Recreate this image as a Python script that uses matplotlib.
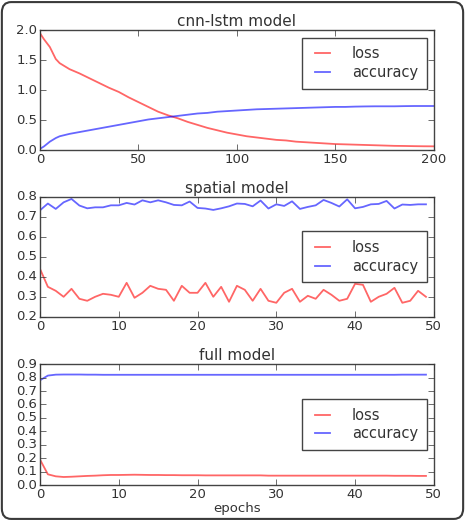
import matplotlib
matplotlib.use('Agg')
import matplotlib.pyplot as plt
from matplotlib.patches import FancyBboxPatch

plt.style.use('classic')
plt.rcParams['font.family'] = ['DejaVu Sans']

# cnn-lstm model, read every 5 epochs
cnn_epochs = [0, 2, 5, 8, 10, 15, 20, 25, 30, 35, 40, 45, 50, 55, 60, 65, 70, 75, 80, 85,
              90, 95, 100, 105, 110, 115, 120, 125, 130, 135, 140, 145, 150, 155, 160,
              165, 170, 175, 180, 185, 190, 195, 200]
cnn_loss = [1.95, 1.85, 1.72, 1.52, 1.45, 1.35, 1.28, 1.20, 1.12, 1.04, 0.97, 0.88, 0.80,
            0.72, 0.64, 0.58, 0.53, 0.47, 0.42, 0.37, 0.33, 0.29, 0.26, 0.23, 0.21, 0.19,
            0.17, 0.16, 0.14, 0.13, 0.12, 0.11, 0.10, 0.095, 0.09, 0.085, 0.08, 0.075,
            0.07, 0.068, 0.065, 0.063, 0.062]
cnn_acc = [0.02, 0.06, 0.14, 0.20, 0.23, 0.27, 0.30, 0.33, 0.36, 0.39, 0.42, 0.45, 0.48,
           0.51, 0.53, 0.55, 0.57, 0.59, 0.61, 0.62, 0.64, 0.65, 0.66, 0.67, 0.68, 0.685,
           0.69, 0.695, 0.70, 0.705, 0.71, 0.715, 0.72, 0.72, 0.725, 0.728, 0.73, 0.73,
           0.73, 0.733, 0.735, 0.735, 0.735]

# spatial model, 50 epochs
spatial_loss = [0.44, 0.35, 0.33, 0.30, 0.34, 0.29, 0.28, 0.30, 0.315, 0.31,
                0.30, 0.37, 0.295, 0.32, 0.355, 0.34, 0.335, 0.28, 0.355, 0.32,
                0.32, 0.37, 0.30, 0.35, 0.275, 0.355, 0.335, 0.28, 0.34, 0.28,
                0.27, 0.32, 0.34, 0.275, 0.305, 0.29, 0.335, 0.31, 0.28, 0.29,
                0.365, 0.36, 0.275, 0.30, 0.315, 0.345, 0.27, 0.28, 0.33, 0.30]
spatial_acc = [0.733, 0.767, 0.74, 0.773, 0.79, 0.757, 0.743, 0.748, 0.748, 0.758,
               0.758, 0.77, 0.762, 0.783, 0.773, 0.783, 0.773, 0.76, 0.758, 0.777,
               0.745, 0.742, 0.735, 0.743, 0.753, 0.767, 0.765, 0.753, 0.782, 0.742,
               0.763, 0.755, 0.778, 0.74, 0.75, 0.758, 0.785, 0.77, 0.752, 0.788,
               0.743, 0.75, 0.763, 0.765, 0.78, 0.742, 0.762, 0.76, 0.763, 0.763]

# full model, 50 epochs
full_loss = [0.19, 0.08, 0.065, 0.06, 0.062, 0.065, 0.068, 0.07, 0.073, 0.075,
             0.075, 0.076, 0.077, 0.076, 0.075, 0.075, 0.074, 0.074, 0.073, 0.073,
             0.073, 0.072, 0.072, 0.072, 0.072, 0.072, 0.072, 0.072, 0.072, 0.07,
             0.07, 0.07, 0.07, 0.07, 0.07, 0.07, 0.07, 0.07, 0.07, 0.07,
             0.07, 0.07, 0.07, 0.07, 0.07, 0.069, 0.069, 0.069, 0.068, 0.068]
full_acc = [0.78, 0.815, 0.822, 0.823, 0.823, 0.823, 0.822, 0.822, 0.821, 0.821,
            0.821, 0.821, 0.821, 0.821, 0.821, 0.821, 0.821, 0.821, 0.821, 0.821,
            0.821, 0.821, 0.821, 0.821, 0.821, 0.821, 0.821, 0.821, 0.821, 0.821,
            0.821, 0.821, 0.821, 0.821, 0.821, 0.821, 0.821, 0.821, 0.821, 0.821,
            0.821, 0.821, 0.821, 0.821, 0.821, 0.821, 0.822, 0.822, 0.822, 0.822]

fig = plt.figure(figsize=(4.65, 5.21), dpi=100, facecolor='white')

ax1 = fig.add_axes([0.086, 0.712, 0.847, 0.230])
ax2 = fig.add_axes([0.086, 0.392, 0.847, 0.230])
ax3 = fig.add_axes([0.086, 0.069, 0.847, 0.232])

text_col = '#333333'

def style(ax, title, ylim, yticks, xlim, xticks, loc):
    ax.set_title(title, fontsize=11, color=text_col, pad=3)
    ax.set_ylim(ylim)
    ax.set_yticks(yticks)
    ax.set_xlim(xlim)
    ax.set_xticks(xticks)
    ax.tick_params(labelsize=9.5, colors=text_col, length=4, pad=2)
    for s in ax.spines.values():
        s.set_color('#444444')
    leg = ax.legend(loc=loc, fontsize=10.5, handlelength=1.6, handletextpad=1.2,
                    borderpad=0.6, labelspacing=0.25, borderaxespad=0.5)
    leg.get_frame().set_edgecolor('#444444')
    for t in leg.get_texts():
        t.set_color(text_col)

ax1.plot(cnn_epochs, cnn_loss, color='r', alpha=0.6, lw=1.3, label='loss')
ax1.plot(cnn_epochs, cnn_acc, color='b', alpha=0.6, lw=1.3, label='accuracy')
style(ax1, 'cnn-lstm model', (0, 2.0), [0, 0.5, 1.0, 1.5, 2.0], (0, 200),
      [0, 50, 100, 150, 200], 'upper right')

ep = list(range(50))
ax2.plot(ep, spatial_loss, color='r', alpha=0.6, lw=1.3, label='loss')
ax2.plot(ep, spatial_acc, color='b', alpha=0.6, lw=1.3, label='accuracy')
style(ax2, 'spatial model', (0.2, 0.8), [0.2, 0.3, 0.4, 0.5, 0.6, 0.7, 0.8], (0, 50),
      [0, 10, 20, 30, 40, 50], 'center right')

ax3.plot(ep, full_loss, color='r', alpha=0.6, lw=1.3, label='loss')
ax3.plot(ep, full_acc, color='b', alpha=0.6, lw=1.3, label='accuracy')
style(ax3, 'full model', (0, 0.9), [0, 0.1, 0.2, 0.3, 0.4, 0.5, 0.6, 0.7, 0.8, 0.9],
      (0, 50), [0, 10, 20, 30, 40, 50], 'center right')
ax3.set_xlabel('epochs', fontsize=9.5, color=text_col, labelpad=1)

# rounded frame around the picture
border = FancyBboxPatch((0.004, 0.004), 0.992, 0.992, boxstyle='round,pad=0,rounding_size=0.02',
                        transform=fig.transFigure, fill=False, edgecolor='#3a3a3a', lw=1.5)
fig.patches.append(border)

fig.savefig('out.png', dpi=100, facecolor='white')
